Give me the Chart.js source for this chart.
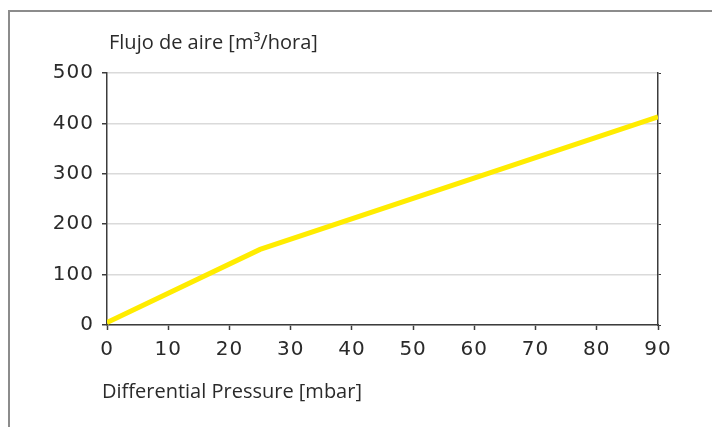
<!DOCTYPE html>
<html>
<head>
<meta charset="utf-8">
<script src="https://cdn.jsdelivr.net/npm/chart.js@4"></script>
<style>
  html, body { margin: 0; padding: 0; background: #fff; }
  #wrap { width: 712px; height: 427px; position: relative; }
</style>
</head>
<body>
<div id="wrap"><canvas id="chart"></canvas></div>
<script>
// values
const pressure = [0, 25, 90];        // mbar
const airFlow = [5, 150, 413];       // m3/hora
const yTicks = [0, 100, 200, 300, 400, 500];
const xTicks = [0, 10, 20, 30, 40, 50, 60, 70, 80, 90];
const yTitle = 'Flujo de aire [m³/hora]';
const xTitle = 'Differential Pressure [mbar]';

const FONT = '"DejaVu Sans", sans-serif';
const TITLE_FONT = '"Open Sans", sans-serif';
const AXIS = '#3c3c3c';

// frame lines + the two titles
const decor = {
  id: 'decor',
  beforeDraw(chart) {
    const ctx = chart.ctx;
    ctx.save();
    ctx.fillStyle = '#fff';
    ctx.fillRect(0, 0, chart.width, chart.height);
    ctx.strokeStyle = '#8c8c8c';
    ctx.lineWidth = 2;
    ctx.beginPath();
    ctx.moveTo(9, chart.height);
    ctx.lineTo(9, 11);
    ctx.lineTo(chart.width, 11);
    ctx.stroke();
    ctx.restore();
    // slightly wider digits for the tick labels
    ctx.letterSpacing = '1px';
  },
  afterDraw(chart) {
    const ctx = chart.ctx;
    const a = chart.chartArea;
    ctx.save();
    ctx.letterSpacing = '0px';
    ctx.fillStyle = '#2a2a2a';
    ctx.font = '20px ' + TITLE_FONT;
    ctx.textBaseline = 'alphabetic';
    ctx.textAlign = 'left';
    ctx.fillText(yTitle, a.left + 2, 49);
    ctx.fillText(xTitle, a.left - 5, 398);
    ctx.restore();
  }
};

new Chart(document.getElementById('chart'), {
  type: 'line',
  data: {
    datasets: [{
      data: pressure.map((p, i) => ({ x: p, y: airFlow[i] })),
      borderColor: '#ffec00',
      borderWidth: 5,
      pointRadius: 0,
      tension: 0,
      fill: false
    }]
  },
  options: {
    responsive: true,
    maintainAspectRatio: false,
    animation: false,
    layout: { padding: { top: 73, left: 0, right: 0, bottom: 0 } },
    plugins: { legend: { display: false }, tooltip: { enabled: false } },
    scales: {
      x: {
        type: 'linear',
        min: 0, max: 90,
        afterBuildTicks: s => { s.ticks = xTicks.map(v => ({ value: v })); },
        afterFit: s => { s.height = 102; },
        border: { color: AXIS, width: 1.5 },
        grid: { drawOnChartArea: false, tickLength: 5, tickColor: AXIS, tickWidth: 1.5 },
        ticks: { color: '#2a2a2a', font: { family: FONT, size: 20 }, padding: 8, maxRotation: 0 }
      },
      y: {
        min: 0, max: 500,
        afterBuildTicks: s => { s.ticks = yTicks.map(v => ({ value: v })); },
        afterFit: s => { s.width = 107; },
        border: { color: AXIS, width: 1.5 },
        grid: { color: '#dadada', lineWidth: 1.5, tickLength: 5, tickColor: AXIS, tickWidth: 1.5 },
        ticks: { color: '#2a2a2a', font: { family: FONT, size: 20 }, padding: 8 }
      },
      y2: {
        position: 'right',
        min: 0, max: 500,
        afterBuildTicks: s => { s.ticks = yTicks.map(v => ({ value: v })); },
        afterFit: s => { s.width = 54; },
        border: { color: AXIS, width: 1.5 },
        grid: { drawOnChartArea: false, tickLength: 3, tickColor: AXIS, tickWidth: 1 },
        ticks: { display: false }
      }
    }
  },
  plugins: [decor]
});
</script>
</body>
</html>
